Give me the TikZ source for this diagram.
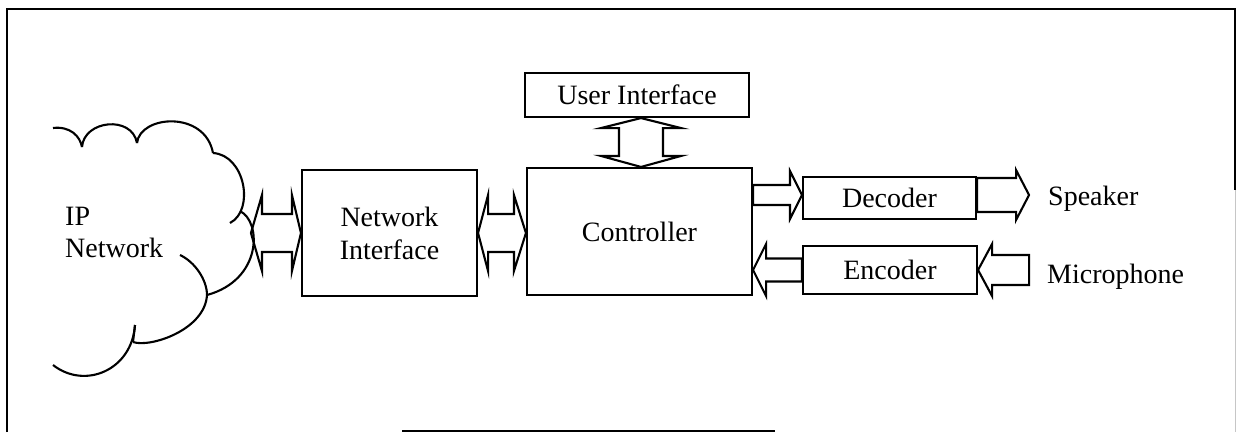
\documentclass[tikz,border=0pt]{standalone}
\usepackage{fontspec}
\setmainfont{Liberation Serif}
\usetikzlibrary{calc}
\tikzset{
  ln/.style={line width=2.1pt},
  blockbox/.style={draw, line width=2.1pt, rectangle, inner sep=0pt,
    font=\fontsize{28}{33}\selectfont, align=center},
  lbl/.style={inner sep=0pt, font=\fontsize{28}{32}\selectfont, align=left},
  blk/.style={draw, line width=2.1pt, line join=miter}
}
% horizontal double block arrow: #1 left tip, #2 right tip, #3/#4 head lengths, #5 shaft half, #6 head half
\newcommand\hdblarrow[6]{%
  \draw[blk] (#1) -- ($(#1)+(#3,-#6)$) -- ($(#1)+(#3,-#5)$) -- ($(#2)+(-#4,-#5)$) -- ($(#2)+(-#4,-#6)$)
    -- (#2) -- ($(#2)+(-#4,#6)$) -- ($(#2)+(-#4,#5)$) -- ($(#1)+(#3,#5)$) -- ($(#1)+(#3,#6)$) -- cycle;}
% vertical double block arrow: #1 top tip, #2 bottom tip
\newcommand\vdblarrow[6]{%
  \draw[blk] (#1) -- ($(#1)+(#6,#3)$) -- ($(#1)+(#5,#3)$) -- ($(#2)+(#5,-#4)$) -- ($(#2)+(#6,-#4)$)
    -- (#2) -- ($(#2)+(-#6,-#4)$) -- ($(#2)+(-#5,-#4)$) -- ($(#1)+(-#5,#3)$) -- ($(#1)+(-#6,#3)$) -- cycle;}
% single block arrow pointing right: #1 tail, #2 tip, #3 head length, #4 shaft half, #5 head half
\newcommand\hsglarrowR[5]{%
  \draw[blk] ($(#1)+(0,-#4)$) -- ($(#2)+(-#3,-#4)$) -- ($(#2)+(-#3,-#5)$) -- (#2)
    -- ($(#2)+(-#3,#5)$) -- ($(#2)+(-#3,#4)$) -- ($(#1)+(0,#4)$) -- cycle;}
% single block arrow pointing left: #1 tail (right), #2 tip (left)
\newcommand\hsglarrowL[5]{%
  \draw[blk] ($(#1)+(0,-#4)$) -- ($(#2)+(#3,-#4)$) -- ($(#2)+(#3,-#5)$) -- (#2)
    -- ($(#2)+(#3,#5)$) -- ($(#2)+(#3,#4)$) -- ($(#1)+(0,#4)$) -- cycle;}
\begin{document}
\begin{tikzpicture}[x=1pt,y=-1pt]
\useasboundingbox (0,0) rectangle (1237,432);
% frame
\draw[ln] (7,432) -- (7,9) -- (1235,9) -- (1235,190);
\draw[line width=1pt, gray!45] (1235,190) -- (1235,432);
\draw[ln] (402,431) -- (775,431);

% cloud
\draw[ln] (53,128) .. controls (70,126) and (80,136) .. (82,147);
\draw[ln] (82,147) .. controls (84,120) and (132,115) .. (137,143);
\draw[ln] (137,143) .. controls (140,115) and (205,110) .. (213,153);
\draw[ln] (213,153) .. controls (245,155) and (255,210) .. (230,223);
\draw[ln] (240,211) .. controls (262,222) and (262,280) .. (207,295);
\draw[ln] (180,255) .. controls (195,262) and (207,280) .. (207,295);
\draw[ln] (133,342) .. controls (150,348) and (205,330) .. (207,295);
\draw[ln] (135,325) -- (133,342);
\draw[ln] (135,325) .. controls (132,370) and (85,390) .. (53,365);
\node[lbl, anchor=west] (ip) at (65,232) {IP\\Network};

% boxes
\node[blockbox, minimum width=175pt, minimum height=126pt] (ni) at (389.5,233) {Network\\Interface};
\node[blockbox, minimum width=225pt, minimum height=127pt] (ctrl) at (639.5,231.5) {Controller};
\node[blockbox, minimum width=224pt, minimum height=44pt] (ui) at (637,95) {User Interface};
\node[blockbox, minimum width=173pt, minimum height=42pt] (dec) at (889.5,198) {Decoder};
\node[blockbox, minimum width=174pt, minimum height=48pt] (enc) at (890,270) {Encoder};
\node[lbl, anchor=west] (spk) at (1048,199) {Speaker};
\node[lbl, anchor=west] (mic) at (1047,277) {Microphone};

% block arrows
\coordinate (cldtip) at ($(ni.west)+(-50,0)$);
\hdblarrow{cldtip}{ni.west}{11}{9}{19}{38}
\coordinate (nictl) at (ni.east -| ctrl.west);
\hdblarrow{ni.east}{nictl}{10}{12}{19}{38}
\coordinate (uit) at ($(ui.south)+(4,0)$);
\coordinate (uib) at (uit |- ctrl.north);
\vdblarrow{uit}{uib}{10}{11}{22}{40}
\coordinate (dtip) at ($(dec.west)+(0,-3)$);
\coordinate (dtail) at (dtip -| ctrl.east);
\hsglarrowR{dtail}{dtip}{12}{10}{24}
\coordinate (etip) at (enc.west -| ctrl.east);
\hsglarrowL{enc.west}{etip}{13}{11.5}{26}
\coordinate (stail) at ($(dec.east)+(0,-3)$);
\coordinate (stip) at ($(stail)+(52,0)$);
\hsglarrowR{stail}{stip}{13}{17}{25}
\coordinate (mtail) at ($(enc.east)+(51,0)$);
\hsglarrowL{mtail}{enc.east}{14}{15}{26}
\end{tikzpicture}
\end{document}
